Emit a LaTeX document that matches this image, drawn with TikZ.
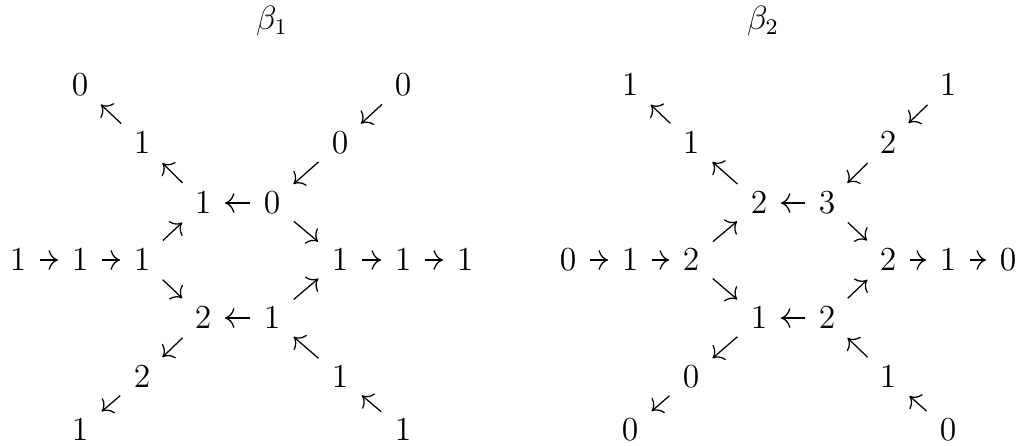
\documentclass[tikz,border=0pt]{standalone}
\usetikzlibrary{arrows.meta}
\begin{document}
\begin{tikzpicture}[x=0.3571pt,y=-0.3571pt,
  num/.style={inner sep=0pt,font=\large},
  tip/.style={-{Computer Modern Rightarrow[scale=1.3]},line width=0.45pt},
  harr/.style={tip,shorten <=7.85pt,shorten >=7.85pt},
  darr/.style={tip,shorten <=10.2pt,shorten >=10.2pt},
  lab/.style={anchor=base,inner sep=0pt,font=\large}]
\useasboundingbox (0,0) rectangle (1031,445);
% ---------- beta_1 ----------
\node[lab] (t1) at (272,29) {$\beta_1$};
\node[num] (La1) at (80,85) {$0$};
\node[num] (La2) at (142,143) {$1$};
\node[num] (Lc1) at (203,203) {$1$};
\node[num] (Lc2) at (272,203) {$0$};
\node[num] (Lb2) at (340,143) {$0$};
\node[num] (Lb1) at (403,85) {$0$};
\node[num] (Lh1) at (18,260) {$1$};
\node[num] (Lh2) at (80,260) {$1$};
\node[num] (Lh3) at (142,260) {$1$};
\node[num] (Lk1) at (340,260) {$1$};
\node[num] (Lk2) at (403,260) {$1$};
\node[num] (Lk3) at (465,260) {$1$};
\node[num] (Ld1) at (203,318) {$2$};
\node[num] (Ld2) at (272,318) {$1$};
\node[num] (Le2) at (142,377) {$2$};
\node[num] (Le1) at (80,430) {$1$};
\node[num] (Lf2) at (340,377) {$1$};
\node[num] (Lf1) at (403,430) {$1$};
% ---------- beta_2 ----------
\node[lab] (t2) at (763,29) {$\beta_2$};
\node[num] (Ra1) at (630,85) {$1$};
\node[num] (Ra2) at (691,143) {$1$};
\node[num] (Rc1) at (759,203) {$2$};
\node[num] (Rc2) at (827,203) {$3$};
\node[num] (Rb2) at (888,143) {$2$};
\node[num] (Rb1) at (948,85) {$1$};
\node[num] (Rh1) at (568,260) {$0$};
\node[num] (Rh2) at (630,260) {$1$};
\node[num] (Rh3) at (691,260) {$2$};
\node[num] (Rk1) at (888,260) {$2$};
\node[num] (Rk2) at (948,260) {$1$};
\node[num] (Rk3) at (1008,260) {$0$};
\node[num] (Rd1) at (759,318) {$1$};
\node[num] (Rd2) at (827,318) {$2$};
\node[num] (Re2) at (691,377) {$0$};
\node[num] (Re1) at (630,430) {$0$};
\node[num] (Rf2) at (888,377) {$1$};
\node[num] (Rf1) at (948,430) {$0$};
% ---------- arrows ----------
\foreach \p in {L,R}{
  \draw[darr] (\p a2.center) -- (\p a1.center);
  \draw[darr] (\p c1.center) -- (\p a2.center);
  \draw[darr] (\p b1.center) -- (\p b2.center);
  \draw[darr] (\p b2.center) -- (\p c2.center);
  \draw[harr] (\p c2.center) -- (\p c1.center);
  \draw[harr] (\p h1.center) -- (\p h2.center);
  \draw[harr] (\p h2.center) -- (\p h3.center);
  \draw[darr] (\p h3.center) -- (\p c1.center);
  \draw[darr] (\p c2.center) -- (\p k1.center);
  \draw[harr] (\p k1.center) -- (\p k2.center);
  \draw[harr] (\p k2.center) -- (\p k3.center);
  \draw[darr] (\p h3.center) -- (\p d1.center);
  \draw[darr] (\p d2.center) -- (\p k1.center);
  \draw[harr] (\p d2.center) -- (\p d1.center);
  \draw[darr] (\p d1.center) -- (\p e2.center);
  \draw[darr] (\p e2.center) -- (\p e1.center);
  \draw[darr] (\p f2.center) -- (\p d2.center);
  \draw[darr] (\p f1.center) -- (\p f2.center);
}
\end{tikzpicture}
\end{document}
